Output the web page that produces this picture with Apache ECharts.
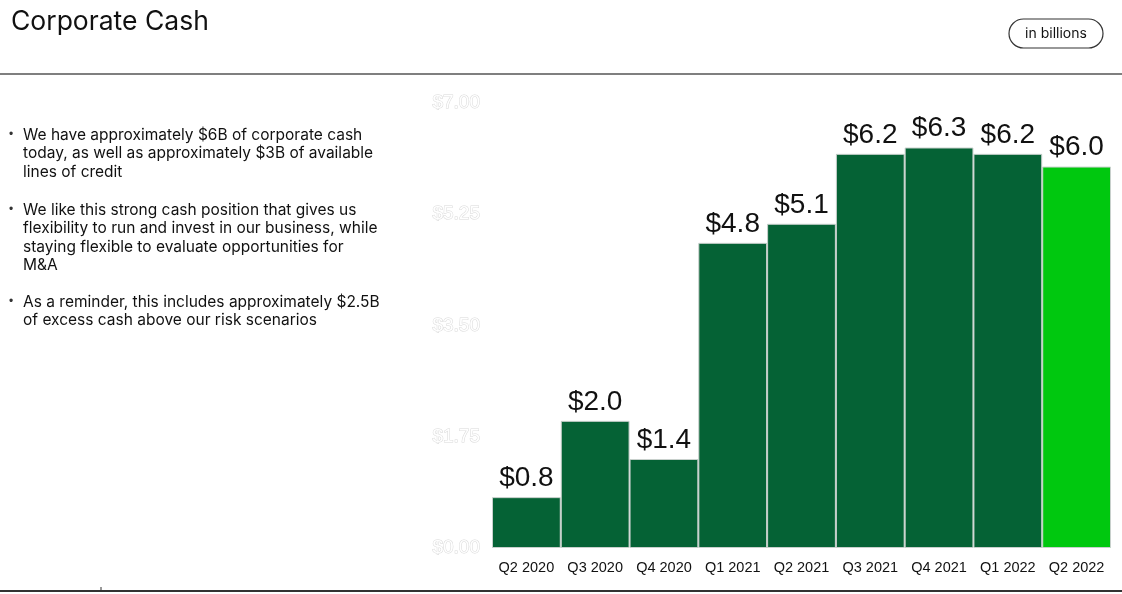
<!DOCTYPE html>
<html>
<head>
<meta charset="utf-8">
<script src="https://cdn.jsdelivr.net/npm/echarts@6/dist/echarts.min.js"></script>
<style>
  html, body { margin: 0; padding: 0; background: #fff; }
  #main { width: 1122px; height: 594px; }
</style>
</head>
<body>
<div id="main"></div>
<script>
var quarters = ['Q2 2020', 'Q3 2020', 'Q4 2020', 'Q1 2021', 'Q2 2021', 'Q3 2021', 'Q4 2021', 'Q1 2022', 'Q2 2022'];
var cash = [0.8, 2.0, 1.4, 4.8, 5.1, 6.2, 6.3, 6.2, 6.0];
var yTicks = [0, 1.75, 3.5, 5.25, 7];
var bullets = [
  ['We have approximately $6B of corporate cash', 'today, as well as approximately $3B of available', 'lines of credit'],
  ['We like this strong cash position that gives us', 'flexibility to run and invest in our business, while', 'staying flexible to evaluate opportunities for', 'M&A'],
  ['As a reminder, this includes approximately $2.5B', 'of excess cash above our risk scenarios']
];

var font = 'Liberation Sans, Arial, sans-serif';
var textFont = 'Inter, Liberation Sans, sans-serif';
var darkGreen = '#056235';
var brightGreen = '#00c80f';

var chart = echarts.init(document.getElementById('main'));

// 左侧文字
var graphics = [
  { type: 'text', x: 11, y: 22, style: { text: 'Corporate Cash', font: '26.5px ' + textFont, fill: '#111', verticalAlign: 'middle' } },
  { type: 'line', shape: { x1: 0, y1: 74, x2: 1122, y2: 74 }, style: { stroke: '#555', lineWidth: 1.5 } },
  { type: 'line', shape: { x1: 0, y1: 591, x2: 1122, y2: 591 }, style: { stroke: '#333', lineWidth: 2 } },
  { type: 'line', shape: { x1: 101, y1: 587, x2: 101, y2: 591 }, style: { stroke: '#333', lineWidth: 1 } },
  { type: 'rect', shape: { x: 1009, y: 19, width: 94, height: 29, r: 14.5 }, style: { fill: '#fff', stroke: '#333', lineWidth: 1.2 } },
  { type: 'text', x: 1056, y: 33.5, style: { text: 'in billions', font: '14px ' + textFont, fill: '#111', align: 'center', verticalAlign: 'middle' } }
];
var starts = [135, 210, 302];
bullets.forEach(function (lines, i) {
  graphics.push({ type: 'text', x: 9, y: starts[i], style: { text: '•', font: '12px ' + font, fill: '#333', verticalAlign: 'middle' } });
  lines.forEach(function (ln, j) {
    graphics.push({ type: 'text', x: 23, y: starts[i] + j * 18.5, style: { text: ln, font: '15.5px ' + textFont, fill: '#111', verticalAlign: 'middle' } });
  });
});

var option = {
  animation: false,
  grid: { left: 492, right: 11, top: 103, bottom: 46 },
  graphic: graphics,
  xAxis: {
    type: 'category',
    data: quarters,
    axisLine: { show: false },
    axisTick: { show: false },
    axisLabel: { interval: 0, color: '#111', fontSize: 14.5, fontFamily: font, margin: 12 }
  },
  yAxis: {
    type: 'value',
    min: 0,
    max: 7,
    interval: 1.75,
    splitLine: { show: false },
    axisLabel: {
      margin: 12,
      fontSize: 19,
      fontFamily: font,
      color: '#fff',
      textBorderColor: '#d8d8d8',
      textBorderWidth: 1,
      formatter: function (v) { return '$' + v.toFixed(2); }
    }
  },
  series: [{
    type: 'bar',
    data: cash.map(function (v, i) {
      return { value: v, itemStyle: { color: i === cash.length - 1 ? brightGreen : darkGreen } };
    }),
    barCategoryGap: 0,
    itemStyle: { borderColor: '#c8d0cc', borderWidth: 1 },
    label: {
      show: true,
      position: 'top',
      distance: 5,
      color: '#111',
      fontSize: 28,
      fontFamily: font,
      formatter: function (p) { return '$' + p.value.toFixed(1); }
    }
  }]
};

chart.setOption(option);
</script>
</body>
</html>
